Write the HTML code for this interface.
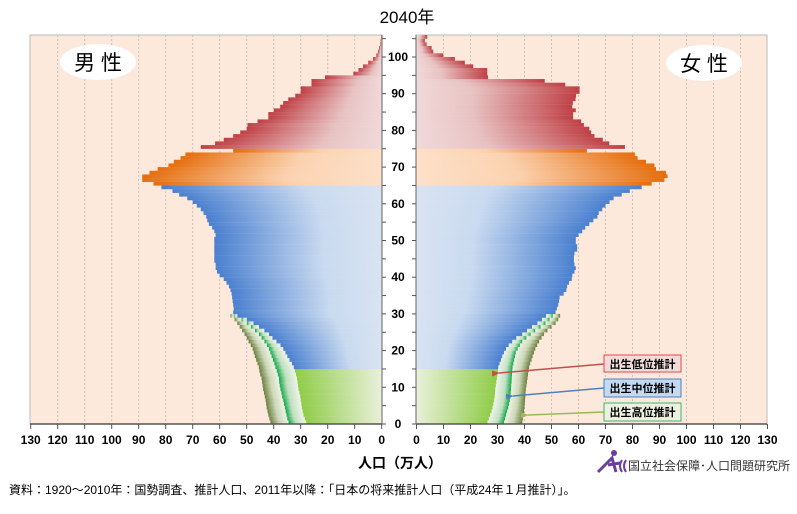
<!DOCTYPE html>
<html><head><meta charset="utf-8">
<style>
html,body{margin:0;padding:0;background:#fff;width:797px;height:514px;overflow:hidden}
svg{display:block}
text{font-family:"Liberation Sans","Noto Sans CJK JP",sans-serif}
</style></head><body>
<svg id="chart" width="797" height="514" viewBox="0 0 797 514">
<defs>
<linearGradient id="gBlueL" x1="1" x2="0" y1="0" y2="0"><stop offset="0" stop-color="#d8e3f2"/><stop offset="0.35" stop-color="#c9daf0"/><stop offset="1" stop-color="#4a80d0"/></linearGradient>
<linearGradient id="gBlueR" x1="0" x2="1" y1="0" y2="0"><stop offset="0" stop-color="#d8e3f2"/><stop offset="0.35" stop-color="#c9daf0"/><stop offset="1" stop-color="#4a80d0"/></linearGradient>
<linearGradient id="gRedL" x1="1" x2="0"><stop offset="0" stop-color="#f0d9d9"/><stop offset="0.35" stop-color="#e8c2c2"/><stop offset="1" stop-color="#bf4046"/></linearGradient>
<linearGradient id="gRedR" x1="0" x2="1"><stop offset="0" stop-color="#f0d9d9"/><stop offset="0.35" stop-color="#e8c2c2"/><stop offset="1" stop-color="#bf4046"/></linearGradient>
<linearGradient id="gOrgL" x1="1" x2="0"><stop offset="0" stop-color="#fde0c8"/><stop offset="0.4" stop-color="#fbd2b0"/><stop offset="1" stop-color="#e56d0c"/></linearGradient>
<linearGradient id="gOrgR" x1="0" x2="1"><stop offset="0" stop-color="#fde0c8"/><stop offset="0.4" stop-color="#fbd2b0"/><stop offset="1" stop-color="#e56d0c"/></linearGradient>
<linearGradient id="gGrnL" x1="1" x2="0"><stop offset="0" stop-color="#e9f0da"/><stop offset="1" stop-color="#8fcd48"/></linearGradient>
<linearGradient id="gGrnR" x1="0" x2="1"><stop offset="0" stop-color="#e9f0da"/><stop offset="1" stop-color="#8fcd48"/></linearGradient>
<linearGradient id="gMidL" x1="1" x2="0"><stop offset="0" stop-color="#f0f4ea"/><stop offset="0.6" stop-color="#bfe0c0"/><stop offset="1" stop-color="#10a848"/></linearGradient>
<linearGradient id="gMidR" x1="0" x2="1"><stop offset="0" stop-color="#f0f4ea"/><stop offset="0.6" stop-color="#bfe0c0"/><stop offset="1" stop-color="#10a848"/></linearGradient>
<linearGradient id="gHiL" x1="1" x2="0"><stop offset="0" stop-color="#eef2e6"/><stop offset="0.5" stop-color="#ccd8b8"/><stop offset="1" stop-color="#6a8040"/></linearGradient>
<linearGradient id="gHiR" x1="0" x2="1"><stop offset="0" stop-color="#eef2e6"/><stop offset="0.5" stop-color="#ccd8b8"/><stop offset="1" stop-color="#6a8040"/></linearGradient>
<marker id="arR" markerUnits="userSpaceOnUse" markerWidth="8" markerHeight="8" refX="1" refY="4" orient="auto"><path d="M8,1 L0,4 L8,7 Z" fill="#c0504d"/></marker>
<marker id="arB" markerUnits="userSpaceOnUse" markerWidth="8" markerHeight="8" refX="1" refY="4" orient="auto"><path d="M8,1 L0,4 L8,7 Z" fill="#4f81bd"/></marker>
<marker id="arG" markerUnits="userSpaceOnUse" markerWidth="8" markerHeight="8" refX="1" refY="4" orient="auto"><path d="M8,1 L0,4 L8,7 Z" fill="#9bbb59"/></marker>
</defs>
<text x="407" y="23" font-size="17" text-anchor="middle">2040年</text>
<rect x="30" y="35" width="352" height="389" fill="#fde9db" stroke="#bbb"/>
<rect x="416" y="35" width="351" height="389" fill="#fde9db" stroke="#bbb"/>
<g id="grid"></g>
<g id="bars"></g>
<g id="axes"></g>
<ellipse cx="98" cy="62" rx="38" ry="18" fill="#fff"/>
<text x="98" y="70" font-size="21" text-anchor="middle">男 性</text>
<ellipse cx="704" cy="63" rx="38" ry="18" fill="#fff"/>
<text x="704" y="71" font-size="21" text-anchor="middle">女 性</text>
<g>
<line x1="604" y1="364" x2="499" y2="373" stroke="#c0504d" stroke-width="1.5" marker-end="url(#arR)"/>
<rect x="604" y="355" width="77" height="17" fill="#f2dcdb" stroke="#e8474a"/>
<text x="642.5" y="368" font-size="11" font-weight="bold" text-anchor="middle">出生低位推計</text></g>
<g>
<line x1="604" y1="388" x2="513" y2="396" stroke="#4f81bd" stroke-width="1.5" marker-end="url(#arB)"/>
<rect x="604" y="379" width="77" height="18" fill="#c5d9f1" stroke="#4f81bd"/>
<text x="642.5" y="392" font-size="11" font-weight="bold" text-anchor="middle">出生中位推計</text></g>
<g>
<line x1="604" y1="412" x2="528" y2="415" stroke="#9bbb59" stroke-width="1.5" marker-end="url(#arG)"/>
<rect x="604" y="403" width="77" height="18" fill="#ebf1de" stroke="#3cb371"/>
<text x="642.5" y="416" font-size="11" font-weight="bold" text-anchor="middle">出生高位推計</text></g>
<text x="400" y="468" font-size="14" font-weight="bold" text-anchor="middle">人口（万人）</text>
<g>
<circle cx="614" cy="453" r="3" fill="#6b3fa0"/>
<path d="M598,472 L612,458 L616,472 M608,465 L620,463" stroke="#6b3fa0" stroke-width="3" fill="none"/>
<path d="M622,460 Q618,466 622,472 M626,460 Q622,466 626,472" stroke="#6b3fa0" stroke-width="2" fill="none"/>
<text x="628" y="470" font-size="12" fill="#333">国立社会保障･人口問題研究所</text></g>
<text x="9" y="494" font-size="12">資料：1920～2010年：国勢調査、推計人口、2011年以降：「日本の将来推計人口（平成24年１月推計）」。</text>
</svg>
<script>
const ages = Array.from({length:106},(_,i)=>i);
const maleLow = [28,28.5,29,29.3,29.6,29.8,30,30.2,30.5,30.8,31,31.2,31.4,31.8,32.2,32.6,33.3,34.2,35,35.7,36.5,37.5,39,40.5,41.8,43.5,45.5,47.5,50,53.5,
55,54.8,55,55.2,55.4,55.6,56,56.6,57.5,58.5,60,61,61.5,61.5,62,62,62,62,62,62,62,61.5,62,62.8,64,64.6,65,66,67,68.5,70,72,75,77.5,81.6,
84.5,88.7,88.7,86,83,79,77,74.5,72.7,55,67,61.7,58.5,55,52.4,50,49.7,46,42,42,40,37.6,36.5,34.6,32,30,30,26,26,21,10.5,8.6,6.9,5,3.2,2,1.4,1,0.6,0.4,0.2];
const maleMid = [34.5,35,35.3,35.6,35.9,36.2,36.5,36.9,37.2,37.5,37.8,38,38.1,38.5,38.9,39.4,39.8,40.3,40.8,41.3,41.8,42.5,43.5,44.5,45.5,47,48.5,50,52,54.8];
const maleHigh = [41.2,41.6,42,42.3,42.6,42.8,43,43.3,43.6,43.9,44.1,44.3,44.5,45,45.3,45.5,46,46.5,47,47.4,47.8,48.5,49.3,50,50.8,51.7,52.6,53.5,54.5,56];
const femaleLow = [26.3,26.8,27.3,27.8,28.2,28.5,28.8,29,29.1,29.2,29.4,29.6,29.8,30,30.2,30.3,30.8,31.3,31.8,32.4,33.2,34.2,35.5,37,39.2,41,42.8,44.8,46.5,48,
51.5,52,52.5,52.8,53,54.5,55.5,55.8,56.5,57.5,57.7,58.5,59,58.5,58.3,58.3,58.5,59.5,59.5,59,59,60,61.4,62.5,64,65.5,67,67.5,68.8,70,71.5,73,76,79,83.4,
87.1,91.8,93,92.4,88.7,88.1,85,81.9,80.9,63.1,77.2,71.4,69,65.9,64.7,64,62,61,58,58,59,57.7,57.9,58.9,59.1,60.4,60.4,55.1,47.5,26.5,26.2,26.2,21,17.9,14.2,9.9,6.2,5.6,3.75,3.1,4];
const femaleMid = [32.4,32.8,33.2,33.6,34,34.3,34.6,34.8,34.9,35,35.1,35.2,35.3,35.4,35.5,35.6,35.9,36.2,36.5,36.8,37.5,38.3,39.2,40.7,42.3,44,46,47.8,49.3,50.5];
const femaleHigh = [39.2,39.4,39.6,39.8,40,40.1,40.2,40.3,40.4,40.5,40.7,40.9,41.1,41.3,41.5,41.7,42.1,42.6,43,43.5,44,44.7,45.4,46.3,47.2,48.5,50,51.5,52.5,53.2];
const xTicks = [0,10,20,30,40,50,60,70,80,90,100,110,120,130];
const ageTicks = [0,10,20,30,40,50,60,70,80,90,100];

const NS='http://www.w3.org/2000/svg';
const L0=381.7, R0=416.5, PX=351/130, Y0=424, ROW=3.67;
const xL=v=>L0-v*PX, xR=v=>R0+v*PX, yA=a=>Y0-(a+1)*ROW;
function mk(tag,attrs,parent){const e=document.createElementNS(NS,tag);for(const k in attrs)e.setAttribute(k,attrs[k]);parent.appendChild(e);return e;}
const grid=document.getElementById('grid'), bars=document.getElementById('bars'), axes=document.getElementById('axes');
xTicks.forEach(t=>{
  if(t>0&&t<130){
    const g1=mk('line',{x1:xL(t),x2:xL(t),y1:35,y2:424,stroke:'#c8c0b8','stroke-dasharray':'2,2'},grid);
    
    
    const g2=mk('line',{x1:xR(t),x2:xR(t),y1:35,y2:424,stroke:'#c8c0b8','stroke-dasharray':'2,2'},grid);
    
    
  }
  const t1=mk('text',{x:xL(t),y:444,'font-size':12,'font-weight':'bold','text-anchor':'middle'},axes);t1.textContent=t;
  
  
  const t2=mk('text',{x:xR(t),y:444,'font-size':12,'font-weight':'bold','text-anchor':'middle'},axes);t2.textContent=t;
  
  
  mk('line',{x1:xL(t),x2:xL(t),y1:424,y2:429,stroke:'#555'},axes);
  mk('line',{x1:xR(t),x2:xR(t),y1:424,y2:429,stroke:'#555'},axes);
});
function fillFor(a,side){const s=side;if(a<15)return 'url(#gGrn'+s+')';if(a<65)return 'url(#gBlue'+s+')';if(a<75)return 'url(#gOrg'+s+')';return 'url(#gRed'+s+')';}
function drawSide(low,mid,high,side){
  const left=side==='L';
  ages.forEach(a=>{
    const y=yA(a), h=ROW+0.15, v=low[a];
    const x0=left?xL(v):R0, w=v*PX;
    const r=mk('rect',{x:x0,y:y,width:w,height:h,fill:fillFor(a,side)},bars);
    
    
    if(a<mid.length){
      const m=mid[a], hi=high[a];
      const bm=mk('rect',{x:left?xL(m):xR(v),y:y,width:(m-v)*PX,height:h,fill:'url(#gMid'+side+')'},bars);
      
      
      const bh=mk('rect',{x:left?xL(hi):xR(m),y:y,width:(hi-m)*PX,height:h,fill:'url(#gHi'+side+')'},bars);
      
      
    }
  });
}
drawSide(maleLow,maleMid,maleHigh,'L');
drawSide(femaleLow,femaleMid,femaleHigh,'R');
mk('line',{x1:30,x2:382,y1:424,y2:424,stroke:'#555','stroke-width':1.5},axes);
mk('line',{x1:416,x2:767,y1:424,y2:424,stroke:'#555','stroke-width':1.5},axes);
mk('line',{x1:382,x2:382,y1:35,y2:424,stroke:'#666'},axes);
mk('line',{x1:416,x2:416,y1:35,y2:424,stroke:'#666'},axes);
for(let a=0;a<=105;a+=5){
  const y=Y0-a*ROW;
  mk('line',{x1:382,x2:386,y1:y,y2:y,stroke:'#555'},axes);
  mk('line',{x1:412,x2:416,y1:y,y2:y,stroke:'#555'},axes);
}
ageTicks.forEach(a=>{
  const t=mk('text',{x:398,y:Y0-a*ROW+4,'font-size':12,'font-weight':'bold','text-anchor':'middle'},axes);t.textContent=a;
  
  
});
</script>
</body></html>
